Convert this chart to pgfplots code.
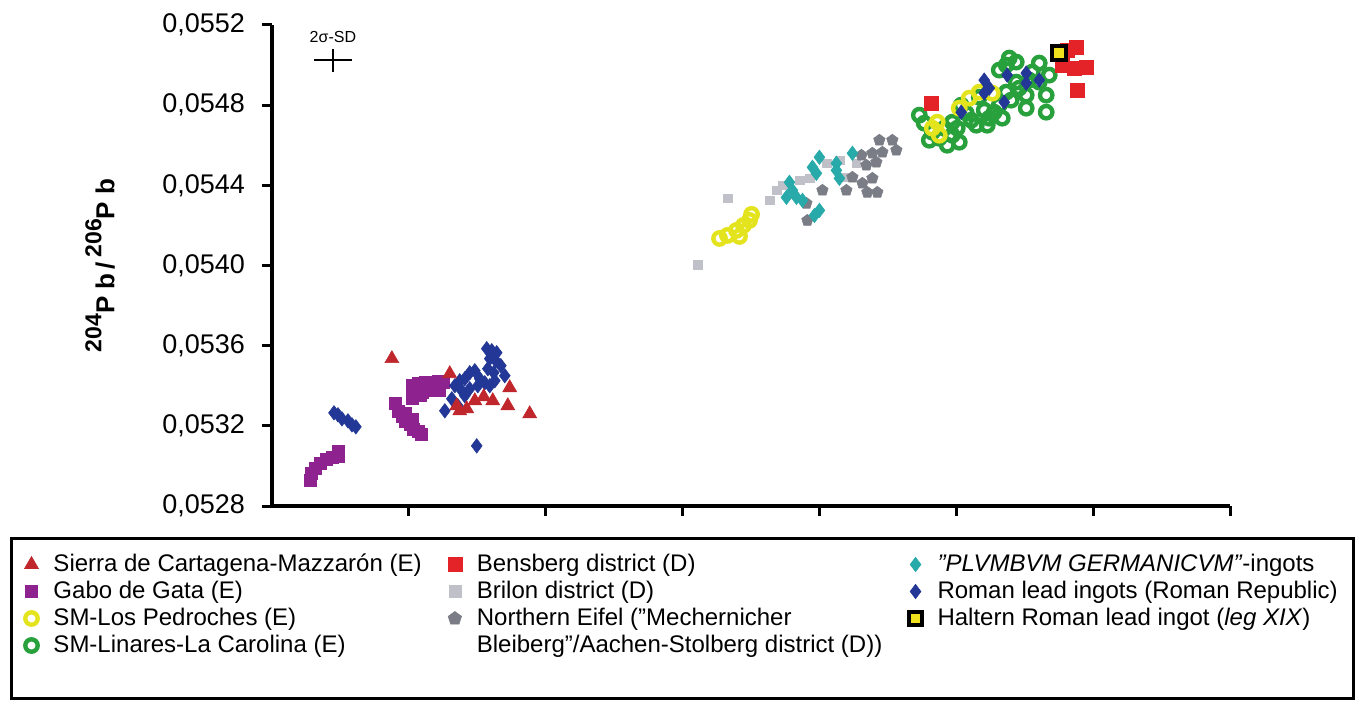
\documentclass[border=0pt]{standalone}
\usepackage{fontspec}
\setmainfont{Liberation Sans}
\usepackage{pgfplots}
\pgfplotsset{compat=1.18}
\definecolor{sierra}{RGB}{192,39,45}
\definecolor{gabo}{RGB}{142,34,142}
\definecolor{pedro}{RGB}{228,228,30}
\definecolor{linares}{RGB}{40,160,60}
\definecolor{bens}{RGB}{228,35,40}
\definecolor{brilon}{RGB}{192,192,200}
\definecolor{eifel}{RGB}{122,124,134}
\definecolor{plumb}{RGB}{40,170,170}
\definecolor{roman}{RGB}{35,55,150}
\definecolor{haltern}{RGB}{240,225,30}

\pgfplotstableread{
x y
0.277 0.05293
0.285 0.052965
0.314 0.05299
0.350 0.053015
0.394 0.053035
0.438 0.053045
0.482 0.05305
0.482 0.053075
0.898 0.05331
0.920 0.053275
0.949 0.05325
0.971 0.053225
1.007 0.05321
1.029 0.053185
1.066 0.053175
1.088 0.05316
0.971 0.053265
1.022 0.053235
1.022 0.0534
1.066 0.05341
1.117 0.053415
1.168 0.053415
1.212 0.05342
1.255 0.053415
1.044 0.053365
1.095 0.053365
1.153 0.053375
1.226 0.053375
1.022 0.053335
1.080 0.05335
}\gabodata

\pgfplotstableread{
x y
0.453 0.053265
0.482 0.053255
0.511 0.053235
0.555 0.053225
0.584 0.053205
0.613 0.053195
1.496 0.0531
1.569 0.053585
1.606 0.053575
1.642 0.053565
1.591 0.053535
1.635 0.053525
1.672 0.0535
1.577 0.053485
1.620 0.053465
1.336 0.0534
1.372 0.053425
1.409 0.053435
1.445 0.053465
1.482 0.053475
1.387 0.053375
1.445 0.053385
1.504 0.0534
1.314 0.053335
1.358 0.0533
1.263 0.053275
1.409 0.05335
1.518 0.053435
1.555 0.053415
1.591 0.0534
1.628 0.053425
1.701 0.05345
5.036 0.054765
5.204 0.054925
5.204 0.05486
5.350 0.054815
5.372 0.05495
5.511 0.05496
5.511 0.05491
5.241 0.054885
5.606 0.054925
}\romandata

\pgfplotstableread{
x y
0.876 0.053535
1.299 0.05346
1.423 0.053285
1.372 0.053275
1.613 0.053325
1.737 0.05339
1.723 0.0533
1.883 0.05326
1.482 0.053325
1.547 0.053345
1.350 0.0533
}\sierradata

\pgfplotstableread{
x y
3.270 0.054135
3.328 0.05415
3.394 0.054175
3.445 0.0542
3.489 0.054225
3.504 0.054255
3.416 0.054145
4.825 0.054685
4.861 0.054715
5.022 0.054785
5.095 0.054835
5.168 0.054865
5.263 0.05486
4.876 0.05465
}\pedrodata

\pgfplotstableread{
x y
3.328 0.054335
3.109 0.054005
3.635 0.054325
3.686 0.054375
3.730 0.0544
3.854 0.054425
4.051 0.05451
4.146 0.054525
4.270 0.05451
4.197 0.05444
3.927 0.054435
}\brilondata

\pgfplotstableread{
x y
3.781 0.054415
3.759 0.05434
3.832 0.05434
3.876 0.054325
3.978 0.05446
4.000 0.05454
3.949 0.05449
4.124 0.054475
4.146 0.054435
4.241 0.05456
4.000 0.054275
3.964 0.05425
3.803 0.054375
4.124 0.05451
}\plumbdata

\pgfplotstableread{
x y
3.912 0.054225
4.022 0.054375
4.314 0.05441
4.350 0.054365
4.423 0.054365
4.343 0.0545
4.416 0.054515
4.460 0.054565
4.533 0.054625
4.438 0.054625
4.562 0.054575
4.387 0.05456
4.241 0.05444
4.197 0.054375
3.905 0.05431
4.387 0.054435
4.307 0.05455
}\eifeldata

\pgfplotstableread{
x y
4.766 0.05471
4.825 0.054665
4.876 0.054635
4.971 0.05465
4.971 0.054715
5.073 0.05476
5.036 0.0548
5.168 0.05484
5.241 0.054735
5.226 0.0547
5.314 0.0548
5.365 0.054865
5.365 0.055
5.438 0.055015
5.555 0.054965
5.606 0.054915
5.511 0.05485
5.657 0.054765
5.511 0.054785
5.438 0.054915
5.606 0.05501
5.146 0.0547
4.730 0.05475
5.314 0.054975
4.803 0.054625
4.912 0.054685
5.007 0.054685
5.109 0.054725
5.204 0.054775
5.277 0.054765
5.336 0.054735
5.401 0.054825
5.460 0.054885
5.533 0.054925
5.657 0.05485
5.679 0.05495
5.387 0.055035
5.022 0.054615
4.934 0.0546
}\linaresdata

\pgfplotstableread{
x y
4.818 0.05481
5.876 0.05509
5.949 0.05499
5.883 0.054875
5.774 0.055
5.861 0.054985
5.810 0.055075
}\bensdata

\pgfplotstableread{
x y
5.752 0.05506
}\halterndata

\begin{document}
\begin{tikzpicture}
\path[use as bounding box] (-136pt,-105.5pt) rectangle (546pt,253pt);
\begin{axis}[
  at={(0,0)}, anchor=south west,
  scale only axis, width=479pt, height=240.5pt,
  xmin=0, xmax=7, ymin=0.0528, ymax=0.0552,
  axis x line*=bottom, axis y line*=left,
  axis line style={-, line width=1.6pt, black},
  xtick={1,2,3,4,5,6,7}, xticklabels={},
  ytick={0.0528,0.0532,0.0536,0.054,0.0544,0.0548,0.0552},
  scaled y ticks=false,
  tick align=outside, major tick length=5pt,
  tick style={line width=1.5pt, black},
  yticklabel style={/pgf/number format/fixed, /pgf/number format/fixed zerofill,
    /pgf/number format/precision=4, /pgf/number format/use comma,
    /pgf/number format/assume math mode=true,
    font=\fontsize{13.5}{15}\selectfont, xshift=-5pt},
  ylabel={\raisebox{0.5em}{\fontsize{11.5}{12}\selectfont 204}P b\,/\,\raisebox{0.5em}{\fontsize{11.5}{12}\selectfont 206}P b},
  ylabel style={at={(axis description cs:-0.1795,0.5)}, anchor=center, font=\fontsize{13}{14}\selectfont\bfseries},
  legend image code/.code={\draw[#1] plot coordinates {(0pt,0pt)}; \path[draw=none,fill=none] (-6pt,-3pt) rectangle (6pt,3pt);},
  legend cell align=left,
  legend columns=3,
  legend style={at={(axis description cs:-0.27349,-0.06445)}, anchor=north west,
    draw=black, line width=1.5pt, inner xsep=4pt, inner ysep=6.25pt,
    font=\fontsize{12}{13.5}\selectfont, row sep=0pt,
    nodes={inner ysep=0pt, inner xsep=4pt, text height=10.2pt, text depth=3.3pt},
    /tikz/every odd column/.append style={column sep=1pt},
    /tikz/every even column/.append style={column sep=6.6pt}},
]
% 2 sigma cross
\addplot[forget plot, draw=none, mark=none,
  error bars/.cd, x dir=both, y dir=both, x explicit, y explicit,
  error mark=none, error bar style={draw=black, solid, line width=0.8pt}]
  coordinates {(0.445,0.055025) +- (0.139,0.0000575)};
\node[font=\fontsize{8}{9}\selectfont] at (axis cs:0.445,0.05514) {2σ-SD};

\addplot[forget plot, only marks, mark=square*, mark size=3pt, color=gabo, line width=0.3pt] table[x=x,y=y] {\gabodata};
\addplot[forget plot, only marks, mark=o, mark size=3.1pt, color=linares, line width=2.2pt] table[x=x,y=y] {\linaresdata};
\addplot[forget plot, only marks, mark=o, mark size=3.1pt, color=pedro, line width=2.2pt] table[x=x,y=y] {\pedrodata};
\addplot[forget plot, only marks, mark=square*, mark size=2.2pt, color=brilon, line width=0.3pt] table[x=x,y=y] {\brilondata};
\addplot[forget plot, only marks, mark=pentagon*, mark size=3pt, color=eifel, line width=0.3pt] table[x=x,y=y] {\eifeldata};
\addplot[forget plot, only marks, mark=diamond*, mark size=3.6pt, color=plumb, line width=0.3pt] table[x=x,y=y] {\plumbdata};
\addplot[forget plot, only marks, mark=square*, mark size=3.5pt, color=bens, line width=0.3pt] table[x=x,y=y] {\bensdata};
\addplot[forget plot, only marks, mark=diamond*, mark size=3.6pt, color=roman, line width=0.3pt] table[x=x,y=y] {\romandata};
\addplot[forget plot, only marks, mark=triangle*, mark size=4pt, color=sierra, line width=0.3pt] table[x=x,y=y] {\sierradata};
\addplot[forget plot, only marks, mark=square*, mark size=3.4pt, line width=2pt, mark options={draw=black, fill=haltern}] table[x=x,y=y] {\halterndata};

% legend, row-wise
\addlegendimage{only marks, mark=triangle*, mark size=4pt, color=sierra, line width=0.3pt}
\addlegendentry{Sierra de Cartagena-Mazzarón (E)}
\addlegendimage{only marks, mark=square*, mark size=3.5pt, color=bens, line width=0.3pt}
\addlegendentry{Bensberg district (D)}
\addlegendimage{only marks, mark=diamond*, mark size=3.6pt, color=plumb, line width=0.3pt}
\addlegendentry{\textit{"PLVMBVM GERMANICVM"}-ingots}
\addlegendimage{only marks, mark=square*, mark size=3pt, color=gabo, line width=0.3pt}
\addlegendentry{Gabo de Gata (E)}
\addlegendimage{only marks, mark=square*, mark size=3pt, color=brilon, line width=0.3pt}
\addlegendentry{Brilon district (D)}
\addlegendimage{only marks, mark=diamond*, mark size=3.6pt, color=roman, line width=0.3pt}
\addlegendentry{Roman lead ingots (Roman Republic)}
\addlegendimage{only marks, mark=o, mark size=3.1pt, color=pedro, line width=2.2pt}
\addlegendentry{SM-Los Pedroches (E)}
\addlegendimage{only marks, mark=pentagon*, mark size=3.5pt, color=eifel, line width=0.3pt}
\addlegendentry{Northern Eifel ("Mechernicher}
\addlegendimage{only marks, mark=square*, mark size=3.4pt, line width=2pt, mark options={draw=black, fill=haltern}}
\addlegendentry{Haltern Roman lead ingot (\textit{leg XIX})}
\addlegendimage{only marks, mark=o, mark size=3.1pt, color=linares, line width=2.2pt}
\addlegendentry{SM-Linares-La Carolina (E)}
\addlegendimage{empty legend}
\addlegendentry{Bleiberg"/Aachen-Stolberg district (D))}
\addlegendimage{empty legend}
\addlegendentry{}
\addlegendimage{empty legend}
\addlegendentry{}
\addlegendimage{empty legend}
\addlegendentry{}
\addlegendimage{empty legend}
\addlegendentry{}
\end{axis}
\end{tikzpicture}
\end{document}
